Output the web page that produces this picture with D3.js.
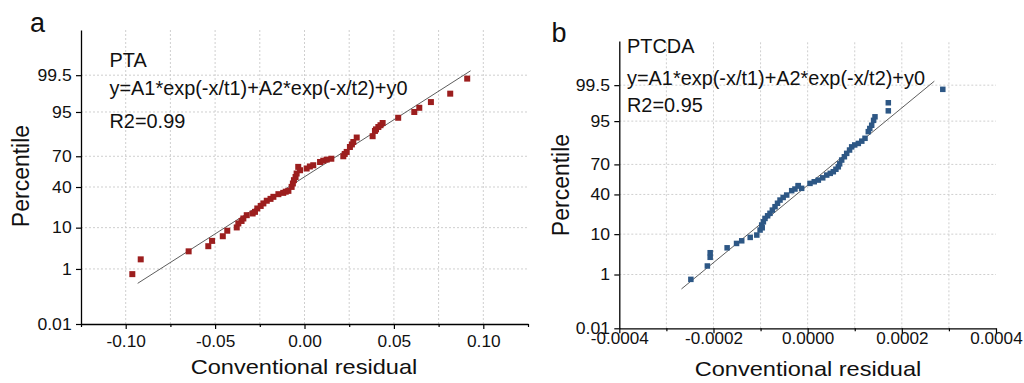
<!DOCTYPE html>
<html>
<head>
<meta charset="utf-8">
<script src="https://cdn.jsdelivr.net/npm/d3@7"></script>
<style>
  body { margin: 0; background: #fff; }
  svg { display: block; font-family: "Liberation Sans", Arial, sans-serif; }
</style>
</head>
<body>
<svg id="chart" width="1024" height="383"></svg>
<script>
// percentile ticks on the probability axis
var yTicks = [0.01, 1, 10, 40, 70, 95, 99.5];

// panel a - PTA
var ptaResidual = [-0.0963, -0.0916, -0.0648, -0.0538, -0.0517, -0.0457, -0.0432, -0.0379, -0.037, -0.0352,
  -0.0342, -0.0323, -0.029, -0.0277, -0.0264, -0.0245, -0.023, -0.0211, -0.019, -0.0174, -0.0146, -0.0119,
  -0.0105, -0.009, -0.0072, -0.0065, -0.0059, -0.005, -0.0044, -0.0025, 0.0012, -0.0035, 0.003, 0.0049,
  0.0087, 0.0105, 0.0124, 0.015, 0.0217, 0.0225, 0.0236, 0.0254, 0.0265, 0.0273, 0.0292, 0.0381, 0.0394,
  0.04, 0.0413, 0.0425, 0.0437, 0.0524, 0.0614, 0.0642, 0.0707, 0.0815, 0.091];
var ptaPercentile = [0.70, 1.86, 3.0, 4.0, 5.3, 6.7, 8.7, 10.1, 12.0, 13.3,
  14.7, 16.7, 17.8, 18.9, 21.3, 23.2, 25.2, 27.4, 29.0, 30.8, 33.2, 34.4,
  35.5, 36.3, 40.1, 43.5, 46.8, 50.0, 53.5, 56.8, 58.5, 60.1, 60.5, 61.7,
  64.8, 66.0, 67.0, 67.8, 70.0, 72.0, 73.7, 77.6, 79.5, 81.2, 84.1, 84.9, 87.8,
  88.6, 89.7, 90.5, 91.4, 93.3, 95.0, 96.0, 97.1, 98.25, 99.36];
var ptaFitResidual = [-0.0933, 0.0929];
var ptaFitPercentile = [0.357, 99.64];

// panel b - PTCDA
var ptcdaResidual = [-0.000248, -0.000213, -0.000207, -0.000207, -0.000171, -0.000151, -0.00014, -0.000122,
  -0.000108, -0.000101, -0.0000965, -0.0000976, -0.000094, -0.0000906, -0.000085, -0.00008, -0.000075,
  -0.0000693, -0.000064, -0.0000587, -0.000052, -0.0000445, -0.0000339, -0.000027, -0.0000127, -0.0000199,
  -0.00002, 0.000005, 0.000014, 0.0000227, 0.000032, 0.0000405, 0.000048, 0.0000545, 0.00006, 0.0000651,
  0.000068, 0.0000723, 0.000078, 0.0000829, 0.000089, 0.0000935, 0.0001, 0.0001076, 0.000115, 0.0001218,
  0.0001288, 0.000132, 0.000136, 0.00014, 0.000143, 0.0001713, 0.0001713, 0.000287];
var ptcdaPercentile = [0.71, 1.76, 3.0, 3.9, 5.1, 6.4, 7.3, 8.6,
  9.6, 12.0, 13.2, 14.8, 16.8, 19.1, 21.0, 22.9, 25.5,
  28.4, 31.5, 34.5, 37.0, 39.4, 43.8, 45.5, 46.2, 48.6,
  49.0, 51.3, 53.0, 54.7, 57.0, 59.8, 61.5, 63.1, 65.5, 67.8,
  70.5, 73.8, 76.5, 79.1, 81.5, 83.6, 84.8, 85.7, 87.0, 88.5,
  91.5, 92.7, 93.8, 95.2, 96.05, 97.2, 98.3, 99.32];
var ptcdaFitResidual = [-0.000268, 0.000269];
var ptcdaFitPercentile = [0.346, 99.63];

// inverse normal cdf (Acklam) for the probability axis
function probit(p) {
  var a = [-3.969683028665376e+01, 2.209460984245205e+02, -2.759285104469687e+02, 1.383577518672690e+02, -3.066479806614716e+01, 2.506628277459239e+00];
  var b = [-5.447609879822406e+01, 1.615858368580409e+02, -1.556989798598866e+02, 6.680131188771972e+01, -1.328068155288572e+01];
  var c = [-7.784894002430293e-03, -3.223964580411365e-01, -2.400758277161838e+00, -2.549732539343734e+00, 4.374664141464968e+00, 2.938163982698783e+00];
  var d = [7.784695709041462e-03, 3.224671290700398e-01, 2.445134137142996e+00, 3.754408661907416e+00];
  var plow = 0.02425, q, r;
  if (p < plow) {
    q = Math.sqrt(-2 * Math.log(p));
    return (((((c[0]*q+c[1])*q+c[2])*q+c[3])*q+c[4])*q+c[5]) / ((((d[0]*q+d[1])*q+d[2])*q+d[3])*q+1);
  } else if (p <= 1 - plow) {
    q = p - 0.5; r = q * q;
    return (((((a[0]*r+a[1])*r+a[2])*r+a[3])*r+a[4])*r+a[5])*q / (((((b[0]*r+b[1])*r+b[2])*r+b[3])*r+b[4])*r+1);
  }
  q = Math.sqrt(-2 * Math.log(1 - p));
  return -(((((c[0]*q+c[1])*q+c[2])*q+c[3])*q+c[4])*q+c[5]) / ((((d[0]*q+d[1])*q+d[2])*q+d[3])*q+1);
}

var svg = d3.select("#chart");
svg.append("rect").attr("width", 1024).attr("height", 383).attr("fill", "#fff");

function drawPanel(cfg) {
  var x = d3.scaleLinear().domain(cfg.xDomain).range(cfg.xRange);
  var yz = d3.scaleLinear().domain([probit(0.0001), probit(0.9999)]).range(cfg.yRange);
  var y = function(p) { return yz(probit(p / 100)); };
  var g = svg.append("g");
  var bottom = cfg.yRange[0], top = cfg.yRange[1];

  // grid
  g.append("g").selectAll("line").data(cfg.xGrid).join("line")
    .attr("x1", d => x(d)).attr("x2", d => x(d))
    .attr("y1", bottom).attr("y2", top)
    .attr("stroke", "#cfcfcf").attr("stroke-width", 1).attr("stroke-dasharray", "2,2");
  g.append("g").selectAll("line").data(yTicks.slice(1)).join("line")
    .attr("x1", cfg.xRange[0]).attr("x2", cfg.xRange[1])
    .attr("y1", d => y(d)).attr("y2", d => y(d))
    .attr("stroke", "#cfcfcf").attr("stroke-width", 1).attr("stroke-dasharray", "2,2");

  // fit line
  g.append("line")
    .attr("x1", x(cfg.fitX[0])).attr("y1", y(cfg.fitP[0]))
    .attr("x2", x(cfg.fitX[1])).attr("y2", y(cfg.fitP[1]))
    .attr("stroke", "#333").attr("stroke-width", 0.8);

  // points
  var s = cfg.size;
  g.append("g").selectAll("rect").data(cfg.xs).join("rect")
    .attr("x", d => x(d) - s / 2)
    .attr("y", (d, i) => y(cfg.ps[i]) - s / 2)
    .attr("width", s).attr("height", s)
    .attr("fill", cfg.color);

  // minor x ticks
  g.append("g").attr("transform", "translate(0," + bottom + ")")
    .call(d3.axisBottom(x).tickValues(cfg.xMinor).tickSize(3).tickFormat(""))
    .call(a => a.select(".domain").remove())
    .selectAll("line").attr("stroke", "#000").attr("stroke-width", 1.2);

  // major x axis
  var xa = g.append("g").attr("transform", "translate(0," + bottom + ")")
    .call(d3.axisBottom(x).tickValues(cfg.xMajor).tickSize(5).tickSizeOuter(0)
      .tickPadding(cfg.xPad).tickFormat(d => d.toFixed(cfg.digits)));
  xa.select(".domain").attr("stroke", "#000").attr("stroke-width", 1.3);
  xa.selectAll("line").attr("stroke-width", 1.2);
  xa.selectAll("text").attr("fill", "#111").style("font-size", cfg.xFont + "px")
    .attr("transform", "scale(" + cfg.xStretch + ",1)")
    .attr("x", 0);

  // y axis
  var ya = g.append("g").attr("transform", "translate(" + cfg.xRange[0] + ",0)")
    .call(d3.axisLeft(yz).tickValues(yTicks.map(p => probit(p / 100))).tickSize(5).tickSizeOuter(0)
      .tickPadding(3.5).tickFormat((d, i) => String(yTicks[i])));
  ya.select(".domain").attr("stroke", "#000").attr("stroke-width", 1.3);
  ya.selectAll("line").attr("stroke-width", 1.2);
  ya.selectAll("text").attr("fill", "#111").style("font-size", "16px")
    .attr("transform", "scale(1.1,1)");

  // titles
  g.append("text")
    .attr("transform", "translate(" + cfg.xTitle[0] + "," + cfg.xTitle[1] + ") scale(1.15,1)")
    .attr("text-anchor", "middle").style("font-size", "20.5px").attr("fill", "#111")
    .text("Conventional residual");
  g.append("text")
    .attr("transform", "translate(" + cfg.yTitle[0] + "," + cfg.yTitle[1] + ") rotate(-90)")
    .attr("text-anchor", "middle").style("font-size", "23px").attr("fill", "#111")
    .text("Percentile");
  g.append("text").attr("x", cfg.letter[0]).attr("y", cfg.letter[1])
    .style("font-size", "27px").attr("fill", "#111").text(cfg.letterText);

  // annotation
  cfg.notes.forEach(function(t, i) {
    g.append("text").attr("x", cfg.noteX).attr("y", cfg.noteY[i])
      .style("font-size", "19.9px").attr("fill", "#111").text(t);
  });
}

drawPanel({
  xDomain: [-0.125, 0.125], xRange: [81, 528], yRange: [324, 30],
  xMajor: [-0.10, -0.05, 0, 0.05, 0.10],
  xMinor: [-0.125, -0.075, -0.025, 0.025, 0.075, 0.125],
  xGrid: [-0.10, -0.075, -0.05, -0.025, 0, 0.025, 0.05, 0.075, 0.10],
  digits: 2, xPad: 7, xFont: 16, xStretch: 1.08,
  xs: ptaResidual, ps: ptaPercentile, fitX: ptaFitResidual, fitP: ptaFitPercentile,
  size: 6, color: "#9c1e1e",
  xTitle: [304, 374], yTitle: [28.5, 176], letter: [30, 32], letterText: "a",
  notes: ["PTA", "y=A1*exp(-x/t1)+A2*exp(-x/t2)+y0", "R2=0.99"],
  noteX: 109.5, noteY: [66.5, 95, 127.5]
});

drawPanel({
  xDomain: [-0.0004, 0.0004], xRange: [619.3, 996], yRange: [328.3, 41],
  xMajor: [-0.0004, -0.0002, 0, 0.0002, 0.0004],
  xMinor: [-0.0003, -0.0001, 0.0001, 0.0003],
  xGrid: [-0.0003, -0.0002, -0.0001, 0, 0.0001, 0.0002, 0.0003],
  digits: 4, xPad: -1, xFont: 16, xStretch: 1.07,
  xs: ptcdaResidual, ps: ptcdaPercentile, fitX: ptcdaFitResidual, fitP: ptcdaFitPercentile,
  size: 5.5, color: "#2d5785",
  xTitle: [808, 376], yTitle: [568.5, 185], letter: [551.5, 41.5], letterText: "b",
  notes: ["PTCDA", "y=A1*exp(-x/t1)+A2*exp(-x/t2)+y0", "R2=0.95"],
  noteX: 627, noteY: [53.3, 84.5, 111.7]
});
</script>
</body>
</html>
